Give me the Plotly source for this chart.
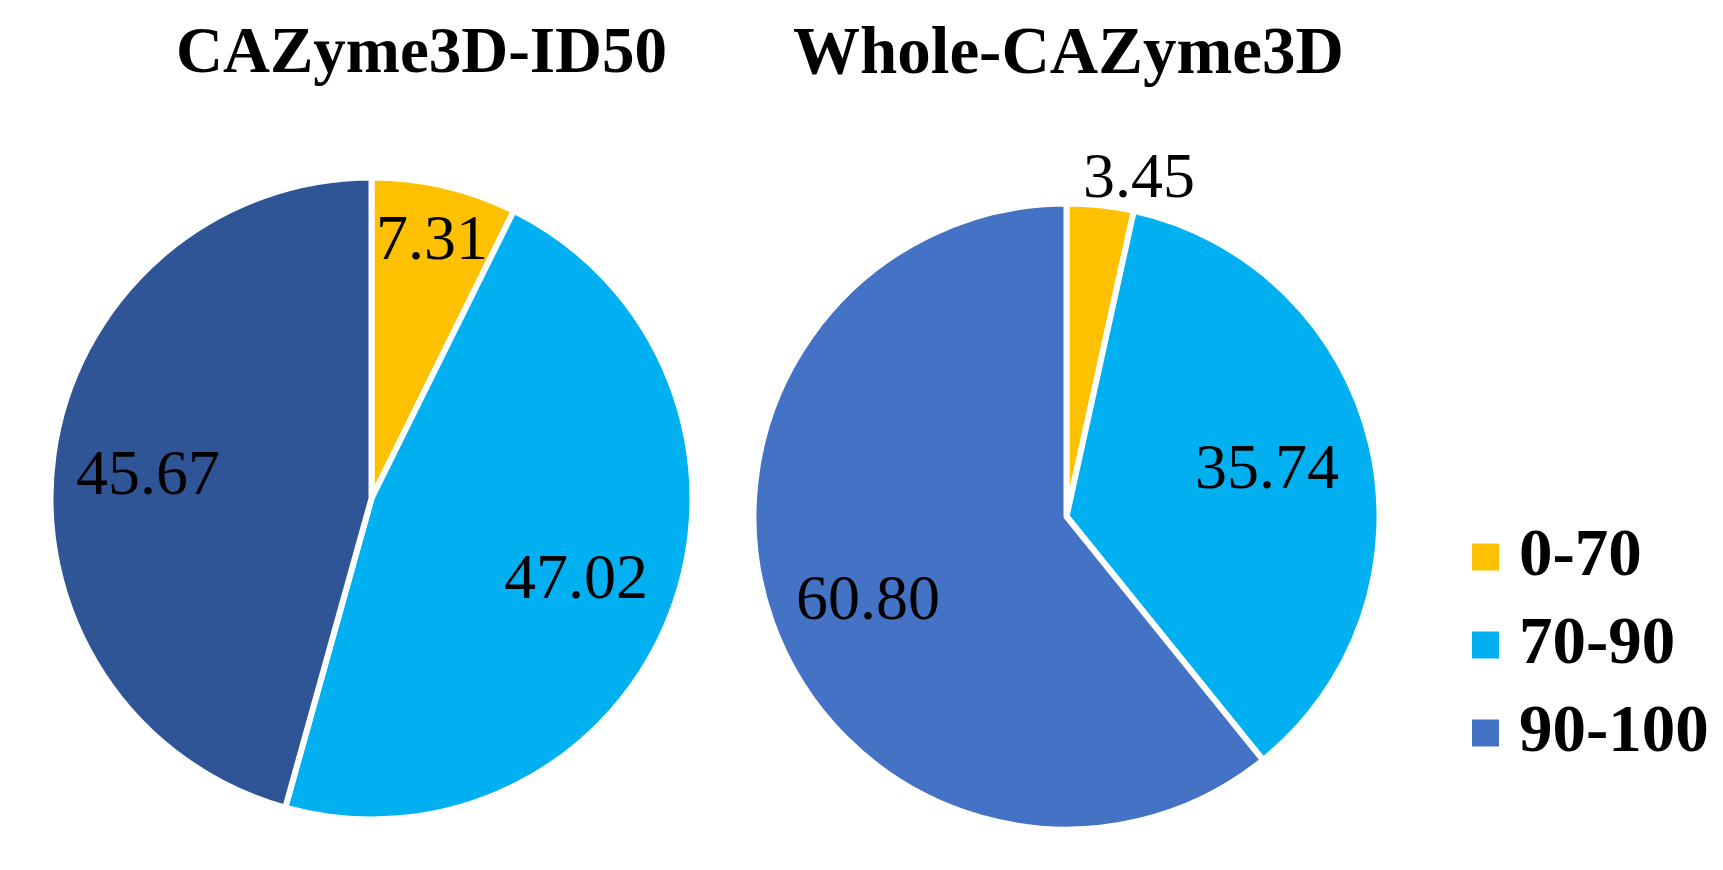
import math
import plotly.graph_objects as go

# ---------------- data ----------------
categories = ["0-70", "70-90", "90-100"]
titles = ["CAZyme3D-ID50", "Whole-CAZyme3D"]
values_id50 = [7.31, 47.02, 45.67]
values_whole = [3.45, 35.74, 60.80]

# ---------------- style ----------------
PAGE_W, PAGE_H = 1723, 870
BODY = 8  # default html body margin
W, H = PAGE_W - 2 * BODY, PAGE_H - 2 * BODY
colors_id50 = ["#FFC000", "#00B0F0", "#2F5597"]
colors_whole = ["#FFC000", "#00B0F0", "#4472C4"]
legend_colors = ["#FFC000", "#00B0F0", "#4472C4"]
SERIF = "Liberation Serif, Times New Roman, serif"

pies = [
    dict(title=titles[0], values=values_id50, colors=colors_id50,
         cx=371.5, cy=498.5, r=321, frac=[0.83, 0.69, 0.71],
         xshift=[0, 0, 0], yshift=[4, 0, -5],
         title_x=421, title_size=65),
    dict(title=titles[1], values=values_whole, colors=colors_whole,
         cx=1066.5, cy=516.5, r=313, frac=[1.12, 0.665, 0.70],
         xshift=[35, 0, 6], yshift=[-4, 3, -9],
         title_x=1068, title_size=67),
]

def px_x(x):
    return (x - BODY) / W

def px_y(y):
    return 1 - (y - BODY) / H

fig = go.Figure()
annotations = []
shapes = []

for p in pies:
    fig.add_trace(go.Pie(
        labels=categories,
        values=p["values"],
        sort=False,
        direction="clockwise",
        rotation=0,
        textinfo="none",
        hoverinfo="label+value",
        marker=dict(colors=p["colors"], line=dict(color="white", width=6)),
        domain=dict(x=[px_x(p["cx"] - p["r"]), px_x(p["cx"] + p["r"])],
                    y=[px_y(p["cy"] + p["r"]), px_y(p["cy"] - p["r"])]),
        showlegend=False,
    ))
    total = sum(p["values"])
    cum = 0.0
    rv = p["r"] - 3
    for i, v in enumerate(p["values"]):
        theta = 2 * math.pi * (cum + v / 2) / total
        cum += v
        rr = rv * p["frac"][i]
        lx = p["cx"] + rr * math.sin(theta)
        ly = p["cy"] - rr * math.cos(theta)
        annotations.append(dict(
            x=px_x(lx), y=px_y(ly), xref="paper", yref="paper",
            text=f"{v:.2f}", showarrow=False, xanchor="center", yanchor="middle",
            xshift=p["xshift"][i], yshift=p["yshift"][i],
            font=dict(family=SERIF, size=64, color="black"),
        ))
    annotations.append(dict(
        x=px_x(p["title_x"]), y=px_y(50), xref="paper", yref="paper",
        text=f"<b>{p['title']}</b>", showarrow=False, xanchor="center", yanchor="middle",
        font=dict(family=SERIF, size=p["title_size"], color="black"),
    ))

# manual legend (large square markers)
leg_x0, leg_sq = 1472, 27
leg_y0, leg_dy = 557, 88
for i, (cat, col) in enumerate(zip(categories, legend_colors)):
    yc = leg_y0 + i * leg_dy
    shapes.append(dict(type="rect", xref="paper", yref="paper",
                       x0=px_x(leg_x0), x1=px_x(leg_x0 + leg_sq),
                       y0=px_y(yc + leg_sq / 2), y1=px_y(yc - leg_sq / 2),
                       fillcolor=col, line=dict(width=0)))
    annotations.append(dict(
        x=px_x(1517), y=px_y(yc - 5), xref="paper", yref="paper",
        text=f"<b>{cat}</b>", showarrow=False, xanchor="left", yanchor="middle",
        font=dict(family=SERIF, size=67, color="black"),
    ))

fig.update_layout(
    width=W, height=H, autosize=False,
    margin=dict(l=0, r=0, t=0, b=0),
    paper_bgcolor="white", plot_bgcolor="white",
    annotations=annotations, shapes=shapes,
    showlegend=False,
)

fig.write_html("out.html")
